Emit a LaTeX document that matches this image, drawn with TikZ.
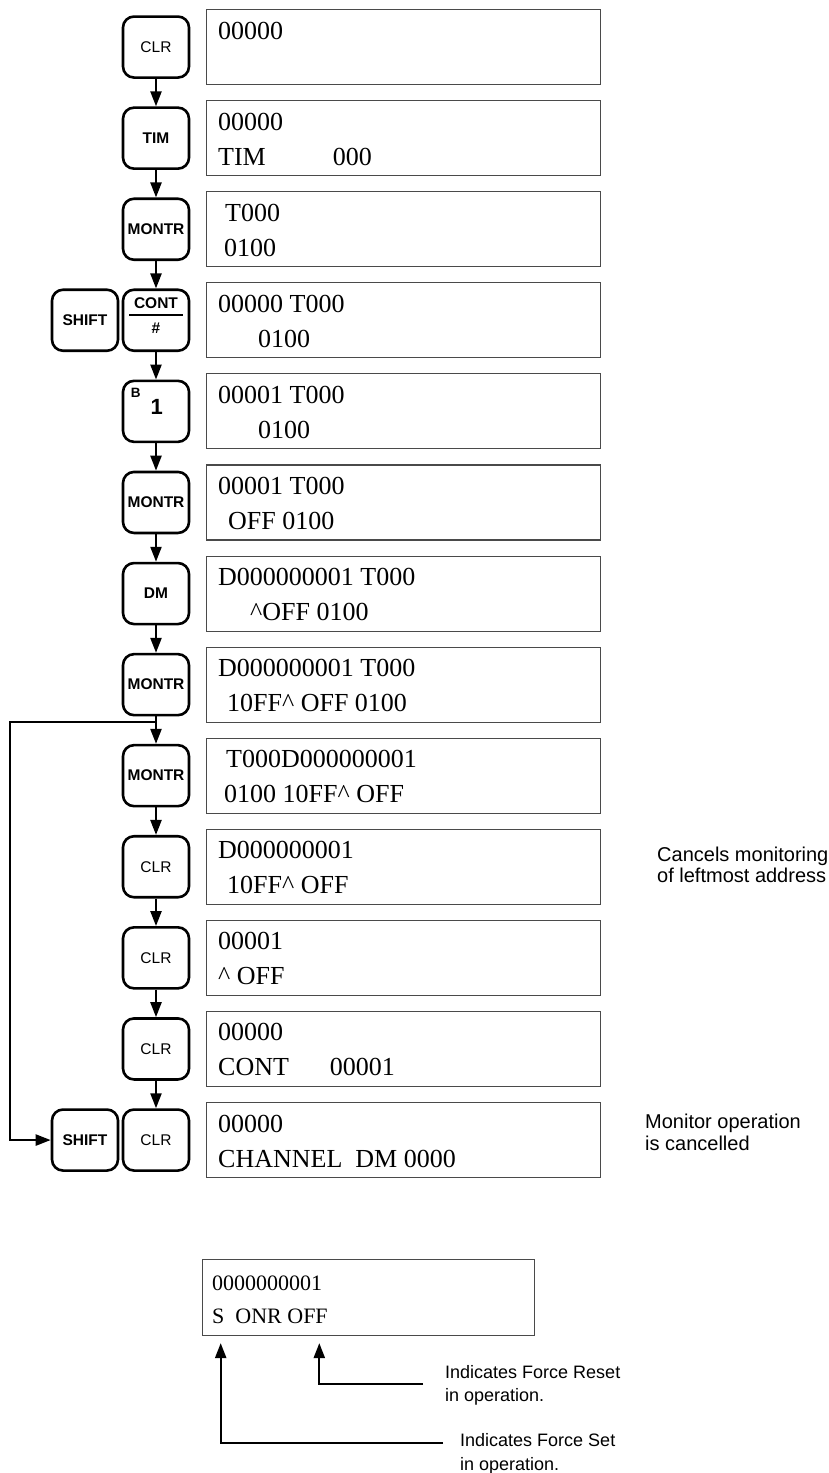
\documentclass[tikz,border=0pt]{standalone}
\usepackage{fontspec}
\setmainfont{Liberation Serif}
\setsansfont{Liberation Sans}
\usetikzlibrary{arrows.meta,calc,positioning}
\definecolor{kpInk}{HTML}{000000}
\definecolor{kpFrame}{HTML}{4A4A4A}
\tikzset{
  kp key/.style={
    draw=kpInk,
    line width=2.6pt,
    rounded corners=11pt,
    minimum width=66pt,
    minimum height=61pt,
    inner sep=0pt,
    font=\sffamily\fontsize{15.5}{15.5}\selectfont
  },
  kp key bold/.style={kp key, font=\sffamily\bfseries\fontsize{15.5}{15.5}\selectfont},
  kp lcd/.style={
    draw=kpFrame,
    line width=1.1pt,
    minimum width=394pt,
    minimum height=75pt,
    inner sep=0pt,
    anchor=north west
  },
  kp line/.style={anchor=base west, inner sep=0pt, font=\rmfamily\fontsize{26}{26}\selectfont},
  kp small line/.style={kp line, font=\rmfamily\fontsize{22}{22}\selectfont},
  kp flow/.style={
    draw=kpInk,
    line width=2.3pt,
    -{Triangle[length=15pt,width=11pt]}
  },
  kp note/.style={anchor=base west, inner sep=0pt, font=\sffamily\fontsize{20}{20}\selectfont},
  kp small note/.style={kp note, font=\sffamily\fontsize{18}{18}\selectfont}
}

\begin{document}
\begin{tikzpicture}[x=1pt,y=-1pt]
  \useasboundingbox[fill=white] (0,0) rectangle (829,1473);

  % displays
  \node[kp lcd] (d1) at (206,9) {};
  \node[kp line] (d1a) at ($(d1.north west)+(12,30)$) {00000};

  \node[kp lcd] (d2) at (206,100.1) {};
  \node[kp line] (d2a) at ($(d2.north west)+(12,30)$) {00000};
  \node[kp line] (d2b) at ($(d2.north west)+(12,65)$) {TIM\hspace{67pt}000};

  \node[kp lcd] (d3) at (206,191.2) {};
  \node[kp line] (d3a) at ($(d3.north west)+(19,30)$) {T000};
  \node[kp line] (d3b) at ($(d3.north west)+(18,65)$) {0100};

  \node[kp lcd] (d4) at (206,282.2) {};
  \node[kp line] (d4a) at ($(d4.north west)+(12,30)$) {00000 T000};
  \node[kp line] (d4b) at ($(d4.north west)+(52,65)$) {0100};

  \node[kp lcd] (d5) at (206,373.3) {};
  \node[kp line] (d5a) at ($(d5.north west)+(12,30)$) {00001 T000};
  \node[kp line] (d5b) at ($(d5.north west)+(52,65)$) {0100};

  \node[kp lcd] (d6) at (206,464.4) {};
  \node[kp line] (d6a) at ($(d6.north west)+(12,30)$) {00001 T000};
  \node[kp line] (d6b) at ($(d6.north west)+(22,65)$) {OFF 0100};

  \node[kp lcd] (d7) at (206,555.5) {};
  \node[kp line] (d7a) at ($(d7.north west)+(12,30)$) {D000000001 T000};
  \node[kp line] (d7b) at ($(d7.north west)+(44,65)$) {\textasciicircum OFF 0100};

  \node[kp lcd] (d8) at (206,646.6) {};
  \node[kp line] (d8a) at ($(d8.north west)+(12,30)$) {D000000001 T000};
  \node[kp line] (d8b) at ($(d8.north west)+(21,65)$) {10FF\textasciicircum{} OFF 0100};

  \node[kp lcd] (d9) at (206,737.6) {};
  \node[kp line] (d9a) at ($(d9.north west)+(20,30)$) {T000D000000001};
  \node[kp line] (d9b) at ($(d9.north west)+(18,65)$) {0100 10FF\textasciicircum{} OFF};

  \node[kp lcd] (d10) at (206,828.7) {};
  \node[kp line] (d10a) at ($(d10.north west)+(12,30)$) {D000000001};
  \node[kp line] (d10b) at ($(d10.north west)+(21,65)$) {10FF\textasciicircum{} OFF};

  \node[kp lcd] (d11) at (206,919.8) {};
  \node[kp line] (d11a) at ($(d11.north west)+(12,30)$) {00001};
  \node[kp line] (d11b) at ($(d11.north west)+(12,65)$) {\textasciicircum{} OFF};

  \node[kp lcd] (d12) at (206,1010.9) {};
  \node[kp line] (d12a) at ($(d12.north west)+(12,30)$) {00000};
  \node[kp line] (d12b) at ($(d12.north west)+(12,65)$) {CONT\hspace{41pt}00001};

  \node[kp lcd] (d13) at (206,1102) {};
  \node[kp line] (d13a) at ($(d13.north west)+(12,30)$) {00000};
  \node[kp line] (d13b) at ($(d13.north west)+(12,65)$) {CHANNEL\ \ DM 0000};

  % keys
  \node[kp key] (k1) at ($(d1.west)+(-50,0)$) {CLR};
  \node[kp key bold] (k2) at ($(d2.west)+(-50,0)$) {TIM};
  \node[kp key bold] (k3) at ($(d3.west)+(-50,0)$) {MONTR};
  \node[kp key bold] (k4) at ($(d4.west)+(-50,0)$) {};
  \node[kp key bold, draw=none] (k4top) at ($(k4.center)+(0,-17)$) {CONT};
  \node[kp key bold, draw=none] (k4bot) at ($(k4.center)+(0,8)$) {\#};
  \draw[line width=2.6pt] ($(k4.center)+(-27,-5.4)$) -- ($(k4.center)+(27,-5.4)$);
  \node[kp key bold] (s4) at ($(d4.west)+(-121,0)$) {SHIFT};
  \node[kp key bold] (k5) at ($(d5.west)+(-50,0)$) {};
  \node[font=\sffamily\bfseries\fontsize{13.5}{13.5}\selectfont, inner sep=0pt] (k5b) at ($(k5.center)+(-20.3,-18.8)$) {B};
  \node[font=\sffamily\bfseries\fontsize{22}{22}\selectfont, inner sep=0pt] (k5one) at ($(k5.center)+(0.7,-4)$) {1};
  \node[kp key bold] (k6) at ($(d6.west)+(-50,0)$) {MONTR};
  \node[kp key bold] (k7) at ($(d7.west)+(-50,0)$) {DM};
  \node[kp key bold] (k8) at ($(d8.west)+(-50,0)$) {MONTR};
  \node[kp key bold] (k9) at ($(d9.west)+(-50,0)$) {MONTR};
  \node[kp key] (k10) at ($(d10.west)+(-50,0)$) {CLR};
  \node[kp key] (k11) at ($(d11.west)+(-50,0)$) {CLR};
  \node[kp key] (k12) at ($(d12.west)+(-50,0)$) {CLR};
  \node[kp key] (k13) at ($(d13.west)+(-50,0)$) {CLR};
  \node[kp key bold] (s13) at ($(d13.west)+(-121,0)$) {SHIFT};

  % key sequence
  \draw[kp flow] (k1) -- (k2);
  \draw[kp flow] (k2) -- (k3);
  \draw[kp flow] (k3) -- (k4);
  \draw[kp flow] (k4) -- (k5);
  \draw[kp flow] (k5) -- (k6);
  \draw[kp flow] (k6) -- (k7);
  \draw[kp flow] (k7) -- (k8);
  \draw[kp flow] (k8) -- (k9);
  \draw[kp flow] (k9) -- (k10);
  \draw[kp flow] (k10) -- (k11);
  \draw[kp flow] (k11) -- (k12);
  \draw[kp flow] (k12) -- (k13);
  \coordinate (loop) at ($(k8.south)!0.21!(k9.north)$);
  \draw[kp flow] (loop) -- ++(-146,0) |- (s13.west);

  % notes
  \node[kp note] (n10a) at (657,861.7) {Cancels monitoring};
  \node[kp note] (n10b) at (657,882.7) {of leftmost address};
  \node[kp note] (n13a) at (645,1128) {Monitor operation};
  \node[kp note] (n13b) at (645,1150) {is cancelled};

  % force set / reset display
  \node[kp lcd, minimum width=332pt, minimum height=76pt] (dx) at (202,1259) {};
  \node[kp small line] (dxa) at ($(dx.north west)+(10,31)$) {0000000001};
  \node[kp small line] (dxb) at ($(dx.north west)+(10,64)$) {S\ \ ONR OFF};
  \coordinate (fset) at (443,1443.3);
  \coordinate (freset) at (423,1384.3);
  \draw[kp flow] (fset) -| ($(dx.south west)+(18.7,7)$);
  \draw[kp flow] (freset) -| ($(dx.south west)+(117.3,7)$);
  \node[kp small note] (nra) at (445,1378) {Indicates Force Reset};
  \node[kp small note] (nrb) at (445,1401.7) {in operation.};
  \node[kp small note] (nsa) at (460,1446.7) {Indicates Force Set};
  \node[kp small note] (nsb) at (460,1470) {in operation.};
\end{tikzpicture}
\end{document}
